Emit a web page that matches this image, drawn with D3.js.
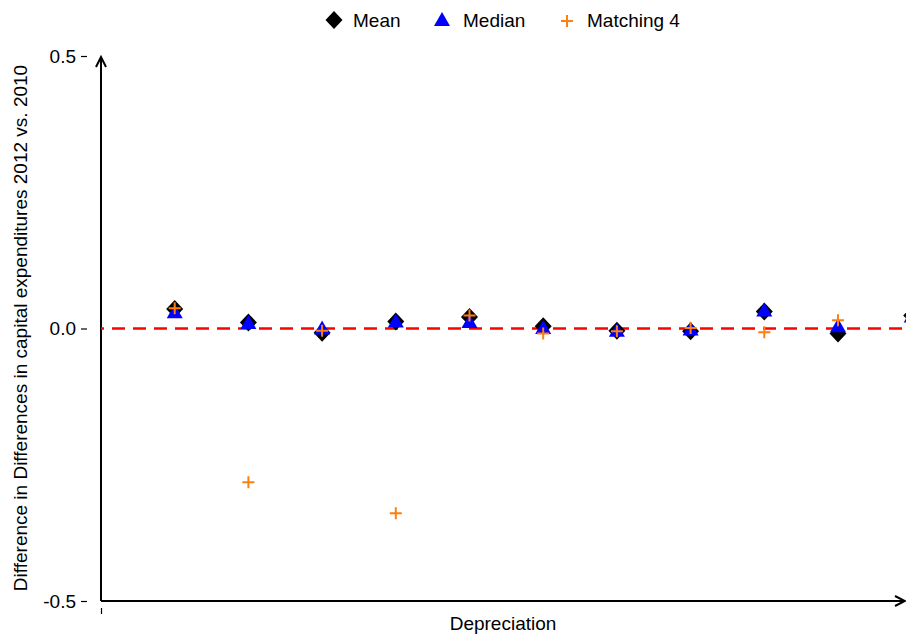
<!DOCTYPE html>
<html>
<head>
<meta charset="utf-8">
<script src="https://cdn.jsdelivr.net/npm/d3@7"></script>
<style>
  body { margin: 0; background: #fff; }
  svg { display: block; font-family: "Liberation Sans", Arial, sans-serif; }
</style>
</head>
<body>
<div id="chart"></div>
<script>
const WIDTH = 906;
const HEIGHT = 639;
const FONT = 19;

// Data (category index 1..11 along Depreciation)
const categories = [1, 2, 3, 4, 5, 6, 7, 8, 9, 10, 11];
const meanValues     = [0.036, 0.011, -0.008, 0.013, 0.021, 0.004, -0.004, -0.005, 0.031, -0.009, 0.024];
const medianValues   = [0.030, 0.010, 0.000, 0.013, 0.012, 0.001, -0.004, -0.002, 0.033, 0.004, 0.022];
const matchingValues = [0.037, -0.282, -0.004, -0.339, 0.024, -0.009, -0.005, 0.001, -0.007, 0.015, 0.020];
const yTicks = [-0.5, 0.0, 0.5];
const yTickLabels = ["-0.5", "0.0", "0.5"];

const svg = d3.select("#chart")
    .append("svg")
    .attr("width", WIDTH)
    .attr("height", HEIGHT);

const x = d3.scaleLinear().domain([0, 11]).range([101, 101 + 11 * 73.7]);
const y = d3.scaleLinear().domain([-0.5, 0.5]).range([601, 56]);

// y ticks, detached from the axis line
const yAxis = svg.append("g")
    .attr("transform", "translate(87,0)")
    .call(d3.axisLeft(y).tickValues(yTicks).tickSize(6).tickPadding(5)
        .tickFormat((d, i) => yTickLabels[i]));
yAxis.select(".domain").remove();
yAxis.selectAll("line").attr("stroke", "#000").attr("stroke-width", 1.2);
yAxis.selectAll("text").attr("font-size", FONT).attr("font-family", "Liberation Sans, Arial, sans-serif").attr("fill", "#000");

// x tick (no label)
const xAxis = svg.append("g")
    .attr("transform", "translate(0,608)")
    .call(d3.axisBottom(x).tickValues([0]).tickSize(6).tickFormat(""));
xAxis.select(".domain").remove();
xAxis.selectAll("line").attr("stroke", "#000").attr("stroke-width", 1.2);

// axis lines with open arrow heads
const axisG = svg.append("g").attr("stroke", "#000").attr("stroke-width", 2).attr("fill", "none");
axisG.append("line").attr("x1", x(0)).attr("y1", y(-0.5)).attr("x2", x(0)).attr("y2", 57);
axisG.append("path").attr("d", `M${x(0) - 5},67 L${x(0)},57 L${x(0) + 5},67`);
axisG.append("line").attr("x1", x(0)).attr("y1", y(-0.5)).attr("x2", 905).attr("y2", y(-0.5));
axisG.append("path").attr("d", `M895,${y(-0.5) - 5} L905,${y(-0.5)} L895,${y(-0.5) + 5}`);

// zero reference line
svg.append("line")
    .attr("x1", x(0)).attr("x2", WIDTH)
    .attr("y1", y(0)).attr("y2", y(0))
    .attr("stroke", "#ff0000")
    .attr("stroke-width", 2.5)
    .attr("stroke-dasharray", "13,8")
    .attr("stroke-dashoffset", -11);

const diamond = "M0,-9 L8.5,0 L0,9 L-8.5,0 Z";
const triangle = "M0,-8 L8,6 L-8,6 Z";
const plus = "M-6,0 L6,0 M0,-6 L0,6";

svg.append("g").selectAll("path")
    .data(categories)
    .enter()
    .append("path")
    .attr("d", diamond)
    .attr("transform", (d, i) => `translate(${x(d)},${y(meanValues[i])})`)
    .attr("fill", "#000");

svg.append("g").selectAll("path")
    .data(categories)
    .enter()
    .append("path")
    .attr("d", triangle)
    .attr("transform", (d, i) => `translate(${x(d)},${y(medianValues[i])})`)
    .attr("fill", "#0000ff");

svg.append("g").selectAll("path")
    .data(categories)
    .enter()
    .append("path")
    .attr("d", plus)
    .attr("transform", (d, i) => `translate(${x(d)},${y(matchingValues[i])})`)
    .attr("stroke", "#ff7f0e")
    .attr("stroke-width", 2)
    .attr("fill", "none");

// axis titles
svg.append("text")
    .attr("x", 503).attr("y", 630)
    .attr("text-anchor", "middle")
    .attr("font-size", FONT)
    .text("Depreciation");

svg.append("text")
    .attr("transform", "translate(27,328) rotate(-90)")
    .attr("text-anchor", "middle")
    .attr("font-size", FONT)
    .text("Difference in Differences in capital expenditures 2012 vs. 2010");

// legend
const legend = svg.append("g");
legend.append("path").attr("d", diamond).attr("transform", "translate(334,20)").attr("fill", "#000");
legend.append("text").attr("x", 353).attr("y", 27).attr("font-size", FONT).text("Mean");
legend.append("path").attr("d", triangle).attr("transform", "translate(442,20)").attr("fill", "#0000ff");
legend.append("text").attr("x", 463).attr("y", 27).attr("font-size", FONT).text("Median");
legend.append("path").attr("d", plus).attr("transform", "translate(567,21)")
    .attr("stroke", "#ff7f0e").attr("stroke-width", 2).attr("fill", "none");
legend.append("text").attr("x", 587).attr("y", 27).attr("font-size", FONT).text("Matching 4");
</script>
</body>
</html>
